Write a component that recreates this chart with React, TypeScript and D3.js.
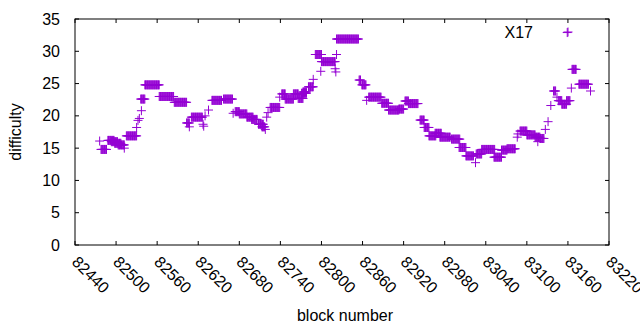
import React from 'react';
import * as d3 from 'd3';

// runs of blocks that share a difficulty value: [first block, last block, difficulty]
const runStart = [82476,82478,82488,82493,82498,82503,82512,82515,82530,82532,82534,82537,82536,82542,82563,82585,82603,82607,82610,82627,82628,82630,82635,82640,82657,82671,82674,82680,82691,82698,82708,82713,82718,82720,82722,82725,82739,82742,82747,82759,82766,82771,82773,82781,82788,82791,82800,82799,82820,82821,82822,82822,82855,82859,82866,82869,82888,82898,82913,82922,82927,82944,82950,82957,82966,82973,82990,83001,83011,83025,83026,83034,83052,83063,83071,83086,83087,83090,83100,83112,83116,83119,83127,83131,83135,83139,83144,83146,83151,83158,83159,83165,83166,83176,83193];
const runEnd = [82476,82486,82497,82502,82507,82512,82512,82530,82530,82532,82534,82537,82542,82563,82584,82603,82607,82607,82626,82627,82628,82630,82635,82654,82670,82671,82680,82691,82700,82706,82715,82717,82718,82720,82722,82739,82739,82747,82759,82766,82773,82778,82778,82788,82788,82800,82820,82799,82820,82821,82822,82854,82857,82865,82866,82887,82898,82913,82920,82927,82941,82950,82957,82967,82975,82988,83002,83011,83022,83025,83034,83053,83063,83071,83083,83086,83087,83100,83112,83119,83116,83125,83127,83131,83135,83142,83144,83151,83158,83163,83159,83165,83172,83190,83193];
const runValue = [16.1,14.8,16.2,16.0,15.75,15.5,15.0,16.9,18.2,19.3,19.6,20.8,22.6,24.8,23.0,22.1,18.9,18.3,19.8,18.7,18.4,20.0,20.9,22.4,22.6,20.4,20.65,20.3,19.8,19.45,18.7,18.3,17.9,19.8,20.5,21.3,22.9,23.4,22.6,23.4,22.7,23.5,23.7,24.5,25.65,29.5,28.4,26.9,27.3,26.8,29.5,31.9,25.55,24.8,22.4,22.9,21.95,20.9,21.05,22.3,21.9,19.35,18.2,16.9,17.3,16.7,16.4,15.1,13.8,12.75,14.1,14.8,13.6,14.7,14.9,16.7,17.2,17.65,17.05,16.7,16.0,16.5,17.9,19.1,21.6,23.85,22.9,22.35,21.8,22.35,32.9,24.3,27.2,24.9,23.85];

const xTicks = [82440,82500,82560,82620,82680,82740,82800,82860,82920,82980,83040,83100,83160,83220];
const yTicks = [0,5,10,15,20,25,30,35];

const points: {b: number, v: number}[] = [];
runStart.forEach((s, i) => {
  for (let b = s; b <= runEnd[i]; b++) points.push({b, v: runValue[i]});
});

const W = 640, H = 330;
const margin = {top: 19, right: 31, bottom: 85, left: 75};
const color = '#9400d3';
const font = "'Liberation Sans', Arial, sans-serif";

const plus = (x: number, y: number) => `M${x - 4.5},${y}h9M${x},${y - 4.5}v9`;

const App = () => {
  const x = d3.scaleLinear().domain([82440, 83220]).range([margin.left, W - margin.right]);
  const y = d3.scaleLinear().domain([0, 35]).range([H - margin.bottom, margin.top]);
  const [x0, x1] = x.range();
  const [y0, y1] = y.range();

  return (
    <svg width={W} height={H} style={{position: 'absolute', left: 0, top: 0, background: '#fff'}}
      fontFamily={font} fontSize={16}>
      {yTicks.map(t => (
        <g key={t}>
          <path d={`M${x0},${y(t)}h4M${x1},${y(t)}h-4`} stroke="#000" />
          <text x={x0 - 15} y={y(t)} dy="0.35em" textAnchor="end">{t}</text>
        </g>
      ))}
      {xTicks.map(t => (
        <g key={t}>
          <path d={`M${x(t)},${y0}v-4M${x(t)},${y1}v4`} stroke="#000" />
          <text transform={`translate(${x(t) + 4},${y0 + 10}) rotate(45)`} dy="0.7em">{t}</text>
        </g>
      ))}
      <rect x={x0} y={y1} width={x1 - x0} height={y0 - y1} fill="none" stroke="#000" />
      <path d={points.map(p => plus(x(p.b), y(p.v))).join('')} stroke={color} fill="none" />
      <text x={533} y={32} dy="0.35em" textAnchor="end">X17</text>
      <path d={plus(568, 32)} stroke={color} />
      <text transform={`translate(21,${(y0 + y1) / 2}) rotate(-90)`} textAnchor="middle">difficulty</text>
      <text x={(x0 + x1) / 2 + 3} y={321} textAnchor="middle">block number</text>
    </svg>
  );
};

export default App;
